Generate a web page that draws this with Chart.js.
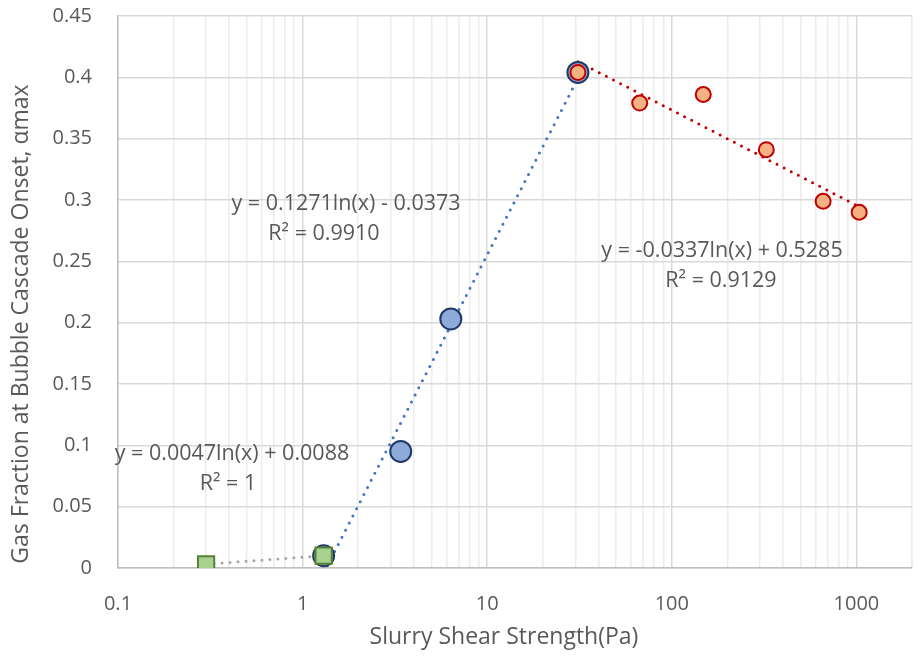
<!DOCTYPE html>
<html>
<head>
<meta charset="utf-8">
<title>Gas fraction vs slurry shear strength</title>
<script src="https://cdn.jsdelivr.net/npm/chart.js@4.4.0/dist/chart.umd.min.js"></script>
<style>
  html, body { margin: 0; padding: 0; background: #fff; }
  #wrap { width: 920px; height: 658px; position: relative; }
</style>
</head>
<body>
<div id="wrap"><canvas id="chart"></canvas></div>
<script>
// measured onset points, three regimes
const lowStrength = [0.3, 1.3];
const lowFraction = [0.003, 0.01];
const midStrength = [1.3, 3.4, 6.35, 31];
const midFraction = [0.01, 0.095, 0.203, 0.404];
const highStrength = [31, 67, 148, 325, 660, 1035];
const highFraction = [0.404, 0.379, 0.386, 0.341, 0.299, 0.29];

// log fits, y = a ln(x) + b
const lowFit = [0.0047, 0.0088];
const midFit = [0.1271, -0.0373];
const highFit = [-0.0337, 0.5285];

const decades = [0.1, 1, 10, 100, 1000];
const xTickLabels = ['0.1', '1', '10', '100', '1000'];
const yTicks = [0, 0.05, 0.1, 0.15, 0.2, 0.25, 0.3, 0.35, 0.4, 0.45];

const TEXT = '#595959';
const FONT = '"Open Sans", sans-serif';

// grid lines at 1..9 of every decade, up to the right edge at 2000
const xGrid = [];
decades.forEach(d => {
    for (let m = 1; m <= 9; m++) xGrid.push(parseFloat((d * m).toPrecision(3)));
});
xGrid.push(2000);

function points(xs, ys) {
    return xs.map((x, i) => ({ x: x, y: ys[i] }));
}

// a ln(x) + b is straight on a log axis, so the ends are enough
function fitLine(xs, c) {
    const ends = [xs[0], xs[xs.length - 1]];
    return ends.map(x => ({ x: x, y: c[0] * Math.log(x) + c[1] }));
}

function isDecade(v) {
    return decades.some(d => Math.abs(v - d) < d * 1e-6);
}

const labelsPlugin = {
    id: 'fitLabels',
    afterDraw(chart) {
        const ctx = chart.ctx;
        ctx.save();
        ctx.fillStyle = TEXT;
        ctx.textAlign = 'center';
        ctx.textBaseline = 'middle';
        ctx.font = '21.5px ' + FONT;

        const notes = [
            ['y = 0.1271ln(x) - 0.0373', 346, 204],
            ['R² = 0.9910', 324, 234],
            ['y = -0.0337ln(x) + 0.5285', 722, 251],
            ['R² = 0.9129', 721, 281],
            ['y = 0.0047ln(x) + 0.0088', 232, 454],
            ['R² = 1', 228, 484]
        ];
        notes.forEach(n => ctx.fillText(n[0], n[1], n[2]));

        // axis titles
        ctx.font = '23px ' + FONT;
        ctx.fillText('Slurry Shear Strength(Pa)', 504, 637);
        ctx.translate(21, 324);
        ctx.rotate(-Math.PI / 2);
        ctx.fillText('Gas Fraction at Bubble Cascade Onset, αmax', 0, 0);
        ctx.restore();
    }
};

const dotted = {
    showLine: true,
    pointRadius: 0,
    pointHoverRadius: 0,
    borderWidth: 3,
    borderDash: [0, 8],
    borderCapStyle: 'round',
    fill: false
};

new Chart(document.getElementById('chart'), {
    type: 'scatter',
    data: {
        datasets: [
            {
                label: 'low',
                data: points(lowStrength, lowFraction),
                pointStyle: 'rect',
                pointRadius: 11.5,
                backgroundColor: '#a9d18e',
                borderColor: '#548235',
                borderWidth: 2,
                order: 0
            },
            {
                label: 'high',
                data: points(highStrength, highFraction),
                pointRadius: 7.5,
                backgroundColor: '#f4b183',
                borderColor: '#c00000',
                borderWidth: 2,
                order: 1
            },
            {
                label: 'mid',
                data: points(midStrength, midFraction),
                pointRadius: 10.5,
                backgroundColor: '#8eaadb',
                borderColor: '#1f3864',
                borderWidth: 2,
                order: 2
            },
            Object.assign({ label: 'low fit', data: fitLine(lowStrength, lowFit), borderColor: '#a6a6a6', order: 3 }, dotted),
            Object.assign({ label: 'mid fit', data: fitLine(midStrength, midFit), borderColor: '#4472c4', order: 3 }, dotted),
            Object.assign({ label: 'high fit', data: fitLine(highStrength, highFit), borderColor: '#c00000', order: 3 }, dotted)
        ]
    },
    options: {
        responsive: true,
        maintainAspectRatio: false,
        animation: false,
        layout: { autoPadding: false, padding: { top: 16, right: 8, left: 0, bottom: 0 } },
        plugins: {
            legend: { display: false },
            tooltip: { enabled: false }
        },
        scales: {
            x: {
                type: 'logarithmic',
                min: 0.1,
                max: 2000,
                afterBuildTicks(scale) {
                    scale.ticks = xGrid.map(v => ({ value: v, major: isDecade(v) }));
                },
                afterFit(scale) {
                    scale.height = 90;
                    scale.paddingLeft = 0;
                    scale.paddingRight = 0;
                },
                ticks: {
                    autoSkip: false,
                    maxRotation: 0,
                    padding: 24,
                    color: TEXT,
                    font: { family: FONT, size: 20 },
                    callback(v) {
                        const i = decades.findIndex(d => Math.abs(v - d) < d * 1e-6);
                        return i >= 0 ? xTickLabels[i] : '';
                    }
                },
                grid: {
                    drawTicks: false,
                    lineWidth: 1.5,
                    color: c => (c.tick && isDecade(c.tick.value)) ? '#d9d9d9' : '#ececec'
                },
                border: { color: '#bfbfbf', width: 1.5 }
            },
            y: {
                min: 0,
                max: 0.45,
                afterBuildTicks(scale) {
                    scale.ticks = yTicks.map(v => ({ value: v }));
                },
                afterFit(scale) {
                    scale.width = 118;
                    scale.paddingTop = 0;
                    scale.paddingBottom = 0;
                },
                ticks: {
                    padding: 26,
                    color: TEXT,
                    font: { family: FONT, size: 20 },
                    callback: v => String(parseFloat(v.toFixed(2)))
                },
                grid: { drawTicks: false, lineWidth: 1.5, color: '#d9d9d9' },
                border: { color: '#bfbfbf', width: 1.5 }
            }
        }
    },
    plugins: [labelsPlugin]
});
</script>
</body>
</html>
